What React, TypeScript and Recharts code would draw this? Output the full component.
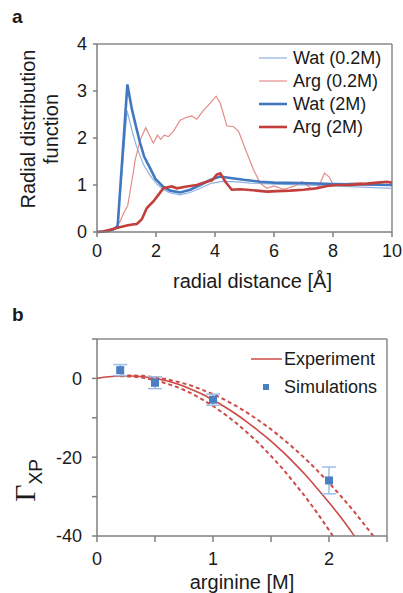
import {
  LineChart,
  ComposedChart,
  Line,
  Scatter,
  ErrorBar,
  XAxis,
  YAxis,
  Legend,
  ReferenceLine,
} from "recharts";

const FONT = '"Liberation Sans", Arial, sans-serif';
const AXIS = "#7f7f7f";
const FRAME = "#8a8a8a";
const TEXT = "#1a1a1a";

// ---- panel a: radial distribution function ----
const watLowX = [0, 0.3, 0.55, 0.7, 0.89, 1.02, 1.18, 1.35, 1.57, 1.8, 2.03, 2.25, 2.48, 2.82, 3.16, 3.5, 3.84, 4.18, 4.63, 5.2, 5.99, 6.89, 8.02, 9.16, 10];
const watLowY = [0, 0.01, 0.05, 0.15, 1.6, 2.58, 2.17, 1.8, 1.44, 1.2, 1.02, 0.9, 0.83, 0.79, 0.84, 0.93, 1.03, 1.07, 1.07, 1.04, 1.02, 1.0, 0.98, 0.95, 0.93];

const argLowX = [0, 0.3, 0.55, 0.78, 0.9, 1.04, 1.16, 1.3, 1.46, 1.65, 1.8, 1.91, 2.05, 2.16, 2.28, 2.42, 2.59, 2.82, 3.04, 3.21, 3.38, 3.61, 3.84, 4.04, 4.18, 4.4, 4.63, 4.8, 5.08, 5.31, 5.53, 5.76, 5.99, 6.33, 6.67, 6.95, 7.12, 7.29, 7.52, 7.71, 7.86, 8.02, 8.3, 8.59, 8.93, 9.27, 9.61, 10];
const argLowY = [0, 0.01, 0.04, 0.22, 0.4, 0.56, 1.0, 1.55, 1.95, 2.22, 2.03, 1.89, 2.06, 1.97, 2.06, 2.03, 2.14, 2.38, 2.44, 2.47, 2.4, 2.59, 2.74, 2.89, 2.74, 2.26, 2.24, 2.14, 1.68, 1.32, 1.04, 0.93, 0.98, 0.91, 0.97, 1.07, 1.0, 0.9, 0.97, 1.25, 1.18, 1.0, 1.02, 1.04, 1.05, 1.0, 1.05, 1.07];

const watHighX = [0, 0.3, 0.55, 0.7, 1.03, 1.18, 1.3, 1.45, 1.6, 1.8, 1.98, 2.25, 2.48, 2.82, 3.16, 3.5, 3.84, 4.18, 4.52, 4.97, 5.53, 5.99, 6.89, 8.02, 9.0, 10];
const watHighY = [0, 0.01, 0.05, 0.12, 3.14, 2.62, 2.3, 1.92, 1.6, 1.36, 1.13, 0.96, 0.88, 0.84, 0.9, 1.0, 1.11, 1.18, 1.15, 1.11, 1.07, 1.05, 1.04, 1.02, 1.01, 1.0];

const argHighX = [0, 0.2, 0.44, 0.7, 1.01, 1.2, 1.35, 1.52, 1.69, 1.91, 2.08, 2.25, 2.54, 2.71, 3.04, 3.38, 3.72, 3.9, 4.06, 4.18, 4.35, 4.57, 4.85, 5.08, 5.42, 5.76, 6.1, 6.55, 7.0, 7.46, 7.8, 8.14, 8.6, 9.16, 9.5, 9.84, 10];
const argHighY = [0, 0.01, 0.05, 0.09, 0.14, 0.16, 0.17, 0.27, 0.51, 0.65, 0.79, 0.93, 0.97, 0.93, 0.97, 1.0, 1.07, 1.1, 1.22, 1.25, 1.07, 0.9, 0.91, 0.9, 0.88, 0.86, 0.87, 0.88, 0.9, 0.93, 0.98, 1.0, 1.0, 1.03, 1.05, 1.07, 1.05];

const rdfTicksX = [0, 2, 4, 6, 8, 10];
const rdfTicksY = [0, 1, 2, 3, 4];

// ---- panel b: preferential interaction coefficient ----
const expX = [0, 0.1, 0.2, 0.3, 0.4, 0.5, 0.6, 0.7, 0.8, 0.9, 1.0, 1.1, 1.2, 1.3, 1.4, 1.5, 1.6, 1.7, 1.8, 1.9, 2.0, 2.1, 2.2, 2.3];
const expMid = [0, 0.4, 0.6, 0.6, 0.4, 0.0, -0.6, -1.5, -2.6, -3.9, -5.5, -7.2, -9.1, -11.2, -13.5, -15.9, -18.6, -21.5, -24.6, -28.0, -31.5, -35.2, -39.2, -43.4];
const upperX = [0.2, 0.3, 0.4, 0.5, 0.6, 0.7, 0.8, 0.9, 1.0, 1.1, 1.2, 1.3, 1.4, 1.5, 1.6, 1.7, 1.8, 1.9, 2.0, 2.1, 2.2, 2.3, 2.4, 2.5];
const expUpper = [0.7, 0.75, 0.65, 0.3, -0.2, -0.9, -1.7, -2.8, -4.0, -5.4, -7.0, -8.8, -10.8, -12.9, -15.3, -17.8, -20.5, -23.4, -26.5, -29.8, -33.2, -36.9, -40.7, -44.6];
const lowerX = [0.2, 0.3, 0.4, 0.5, 0.6, 0.7, 0.8, 0.9, 1.0, 1.1, 1.2, 1.3, 1.4, 1.5, 1.6, 1.7, 1.8, 1.9, 2.0, 2.1];
const expLower = [0.55, 0.45, 0.15, -0.45, -1.3, -2.3, -3.6, -5.2, -7.0, -9.05, -11.3, -13.9, -16.6, -19.7, -22.9, -26.5, -30.2, -34.2, -38.5, -43.0];

const simConc = [0.2, 0.5, 1, 2];
const simGamma = [2.1, -1.1, -5.4, -25.9];
const simErr = [1.4, 1.5, 1.4, 3.4];

const gammaTicksX = [0, 0.5, 1, 1.5, 2, 2.5];
const gammaLabelsX = [0, 1, 2];
const gammaTicksY = [-40, -30, -20, -10, 0, 10];
const gammaLabelsY = [0, -20, -40];

const zip = (xs: number[], ys: number[]) => xs.map((x, i) => ({ x, y: ys[i] }));

const rdfSeries = [
  { name: "Wat (0.2M)", xs: watLowX, ys: watLowY, color: "#8fb3e0", width: 1.2 },
  { name: "Arg (0.2M)", xs: argLowX, ys: argLowY, color: "#e48c8a", width: 1.2 },
  { name: "Wat (2M)", xs: watHighX, ys: watHighY, color: "#4278c0", width: 2.6 },
  { name: "Arg (2M)", xs: argHighX, ys: argHighY, color: "#c23f3b", width: 2.6 },
];

const RED = "#cc4a47";
const BLUE = "#4a7fc1";
const ERR = "#9fbde6";

const tickStyle = { fontSize: 18, fill: TEXT, fontFamily: FONT };
const axisLine = { stroke: AXIS, strokeWidth: 1.5 };
const tickLine = { stroke: AXIS, strokeWidth: 1.5 };

function RdfLegend() {
  return (
    <div style={{ fontFamily: FONT, fontSize: 18, color: TEXT }}>
      {rdfSeries.map((s) => (
        <div key={s.name} style={{ display: "flex", alignItems: "center", height: 23 }}>
          <svg width={28} height={6} style={{ marginRight: 6 }}>
            <line x1={0} x2={28} y1={3} y2={3} stroke={s.color} strokeWidth={s.width} />
          </svg>
          <span>{s.name}</span>
        </div>
      ))}
    </div>
  );
}

function GammaLegend() {
  return (
    <div style={{ fontFamily: FONT, fontSize: 18, color: TEXT }}>
      <div style={{ display: "flex", alignItems: "center", height: 28 }}>
        <svg width={31} height={6} style={{ marginRight: 2 }}>
          <line x1={0} x2={31} y1={3} y2={3} stroke={RED} strokeWidth={1.5} />
        </svg>
        <span>Experiment</span>
      </div>
      <div style={{ display: "flex", alignItems: "center", height: 28 }}>
        <svg width={31} height={8} style={{ marginRight: 2 }}>
          <rect x={12} y={1} width={6} height={6} fill={BLUE} />
        </svg>
        <span>Simulations</span>
      </div>
    </div>
  );
}

export default function App() {
  return (
    <div style={{ position: "absolute", left: 0, top: 0, width: 403, height: 593, background: "#fff", fontFamily: FONT }}>
      <div style={{ position: "absolute", left: 12, top: 6, fontSize: 19, fontWeight: "bold", color: TEXT }}>a</div>
      <div style={{ position: "absolute", left: 12, top: 304, fontSize: 19, fontWeight: "bold", color: TEXT }}>b</div>

      <div style={{ position: "absolute", left: 0, top: 0, width: 403, height: 300 }}>
        <LineChart width={403} height={300} margin={{ top: 44, right: 11, left: 0, bottom: 8 }}>
          <XAxis
            dataKey="x"
            type="number"
            domain={[0, 10]}
            ticks={rdfTicksX}
            height={60}
            axisLine={axisLine}
            tickLine={tickLine}
            tickSize={5}
            tickMargin={7}
            tick={tickStyle}
            label={({ viewBox }: any) => (
              <text x={viewBox.x + viewBox.width / 2 + 8} y={viewBox.y + 56} textAnchor="middle" fontSize={20} fill={TEXT} fontFamily={FONT}>
                radial distance [Å]
              </text>
            )}
          />
          <YAxis
            type="number"
            domain={[0, 4]}
            ticks={rdfTicksY}
            width={97}
            axisLine={axisLine}
            tickLine={tickLine}
            tickSize={4}
            tickMargin={6}
            tick={tickStyle}
            label={({ viewBox }: any) => {
              const cy = viewBox.y + viewBox.height / 2 - 9;
              return (
                <g fontSize={20} fill={TEXT} fontFamily={FONT}>
                  <text transform={`translate(35,${cy}) rotate(-90)`} textAnchor="middle">Radial distribution</text>
                  <text transform={`translate(58,${cy}) rotate(-90)`} textAnchor="middle">function</text>
                </g>
              );
            }}
          />
          {/* plot frame, top and right */}
          <ReferenceLine y={4} stroke={FRAME} strokeWidth={1.5} />
          <ReferenceLine x={10} stroke={FRAME} strokeWidth={1.5} />
          {rdfSeries.map((s) => (
            <Line
              key={s.name}
              data={zip(s.xs, s.ys)}
              dataKey="y"
              name={s.name}
              type="linear"
              stroke={s.color}
              strokeWidth={s.width}
              dot={false}
              isAnimationActive={false}
            />
          ))}
          <Legend
            layout="vertical"
            align="center"
            verticalAlign="middle"
            content={() => <RdfLegend />}
            wrapperStyle={{ left: 259, top: 46.5, width: 140, height: 92 }}
          />
        </LineChart>
      </div>

      <div style={{ position: "absolute", left: 0, top: 300, width: 403, height: 293 }}>
        <ComposedChart width={403} height={293} margin={{ top: 39, right: 16, left: 0, bottom: 7 }}>
          <XAxis
            dataKey="x"
            type="number"
            domain={[0, 2.5]}
            ticks={gammaTicksX}
            height={50}
            axisLine={axisLine}
            tickLine={tickLine}
            tickSize={6}
            tickMargin={10}
            tick={tickStyle}
            tickFormatter={(v: number) => (gammaLabelsX.includes(v) ? String(v) : "")}
            label={({ viewBox }: any) => (
              <text x={viewBox.x + viewBox.width / 2} y={viewBox.y + 53} textAnchor="middle" fontSize={20} fill={TEXT} fontFamily={FONT}>
                arginine [M]
              </text>
            )}
          />
          <YAxis
            dataKey="y"
            type="number"
            domain={[-40, 10]}
            allowDataOverflow
            ticks={gammaTicksY}
            width={97}
            axisLine={axisLine}
            tickLine={tickLine}
            tickSize={5}
            tickMargin={10}
            tick={tickStyle}
            tickFormatter={(v: number) => (gammaLabelsY.includes(v) ? String(v) : "")}
            label={({ viewBox }: any) => (
              <text transform={`translate(35,${viewBox.y + viewBox.height / 2 + 43}) rotate(-90)`} textAnchor="middle" fill={TEXT}>
                <tspan fontFamily='"Liberation Serif", "DejaVu Serif", serif' fontSize={30}>Γ</tspan>
                <tspan fontFamily={FONT} fontSize={19} dy={7}>XP</tspan>
              </text>
            )}
          />
          <ReferenceLine y={10} stroke={FRAME} strokeWidth={1.5} />
          <ReferenceLine x={2.5} stroke={FRAME} strokeWidth={1.5} />
          <Line data={zip(upperX, expUpper)} dataKey="y" name="upper" type="linear" stroke={RED} strokeWidth={2} strokeDasharray="4 3" dot={false} isAnimationActive={false} />
          <Line data={zip(lowerX, expLower)} dataKey="y" name="lower" type="linear" stroke={RED} strokeWidth={2} strokeDasharray="4 3" dot={false} isAnimationActive={false} />
          <Line data={zip(expX, expMid)} dataKey="y" name="Experiment" type="monotone" stroke={RED} strokeWidth={1.6} dot={false} isAnimationActive={false} />
          <Scatter
            name="Simulations"
            data={simConc.map((x, i) => ({ x, y: simGamma[i], err: simErr[i] }))}
            fill={BLUE}
            shape="square"
            isAnimationActive={false}
          >
            <ErrorBar dataKey="err" direction="y" width={7} stroke={ERR} strokeWidth={1.5} />
          </Scatter>
          <Legend
            layout="vertical"
            align="center"
            verticalAlign="middle"
            content={() => <GammaLegend />}
            wrapperStyle={{ left: 251, top: 45, width: 150, height: 56 }}
          />
        </ComposedChart>
      </div>
    </div>
  );
}
